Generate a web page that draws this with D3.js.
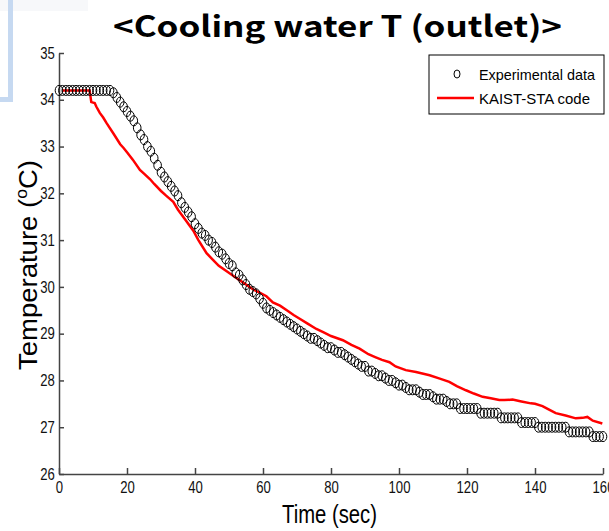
<!DOCTYPE html>
<html>
<head>
<meta charset="utf-8">
<script src="https://cdn.jsdelivr.net/npm/d3@7"></script>
<style>
  body { margin: 0; background: #fff; }
  svg { display: block; }
</style>
</head>
<body>
<div id="chart"></div>
<script>
// experimental data, one reading per second (0..160 s)
const expTemp = [
  34.2, 34.2, 34.2, 34.2, 34.2, 34.2, 34.2, 34.2, 34.2, 34.2, 34.2, 34.2, 34.2, 34.2, 34.2, 34.2,
  34.15, 34.05, 33.95, 33.85, 33.75, 33.65, 33.55, 33.4, 33.25, 33.15, 33.0, 32.9, 32.75, 32.6,
  32.45, 32.35, 32.25, 32.15, 32.05, 31.95, 31.8, 31.7, 31.6, 31.5, 31.35, 31.25, 31.15, 31.1,
  31.0, 30.95, 30.85, 30.75, 30.7, 30.6, 30.5, 30.45, 30.3, 30.25, 30.15, 30.05, 29.95, 29.9,
  29.85, 29.75, 29.65, 29.55, 29.5, 29.45, 29.4, 29.35, 29.3, 29.25, 29.2, 29.15, 29.1, 29.05,
  29.0, 28.95, 28.9, 28.9, 28.85, 28.8, 28.75, 28.7, 28.7, 28.65, 28.6, 28.6, 28.55, 28.5, 28.45,
  28.4, 28.35, 28.3, 28.3, 28.2, 28.2, 28.15, 28.1, 28.1, 28.05, 28.0, 28.0, 27.95, 27.9, 27.9,
  27.85, 27.8, 27.8, 27.8, 27.75, 27.7, 27.7, 27.7, 27.65, 27.6, 27.6, 27.6, 27.55, 27.5, 27.5, 27.5,
  27.4, 27.4, 27.4, 27.4, 27.4, 27.4,
  27.3, 27.3, 27.3, 27.3, 27.3, 27.3,
  27.2, 27.2, 27.2, 27.2, 27.2, 27.2,
  27.1, 27.1, 27.1, 27.1, 27.1,
  27.0, 27.0, 27.0, 27.0, 27.0, 27.0, 27.0, 27.0, 27.0,
  26.9, 26.9, 26.9, 26.9, 26.9, 26.9, 26.9,
  26.8, 26.8, 26.8, 26.8
];

// KAIST-STA code result
const codeTime = [1, 9, 9.5, 10.5, 11, 12, 13, 14, 16, 18, 19, 20, 21.7, 23.8, 25, 26.8, 28, 30,
  31.5, 33.6, 35, 37, 39.5, 41, 43.4, 45, 47, 49, 51, 53, 55, 57, 59, 61, 62.9, 65, 67, 69, 70.8,
  73, 75.7, 78, 80, 83.5, 86, 88.4, 91, 93, 95, 97.2, 99, 102, 105, 109, 112, 114.8, 117, 119.7,
  122, 124.6, 127, 129.5, 131, 133.4, 136, 138.8, 140, 142.2, 144, 146.1, 149, 152, 154, 155.4,
  157, 159.8];
const codeTemp = [34.2, 34.2, 33.95, 33.93, 33.85, 33.72, 33.62, 33.5, 33.28, 33.05, 32.97, 32.88,
  32.72, 32.5, 32.42, 32.3, 32.2, 32.05, 31.95, 31.82, 31.65, 31.45, 31.2, 31.0, 30.72, 30.6,
  30.45, 30.35, 30.25, 30.15, 30.05, 29.95, 29.88, 29.8, 29.67, 29.6, 29.5, 29.4, 29.32, 29.22,
  29.1, 29.02, 28.95, 28.86, 28.76, 28.68, 28.56, 28.5, 28.44, 28.39, 28.3, 28.22, 28.18, 28.11,
  28.04, 27.97, 27.88, 27.79, 27.72, 27.65, 27.62, 27.58, 27.58, 27.59, 27.55, 27.51, 27.5, 27.45,
  27.38, 27.3, 27.25, 27.19, 27.2, 27.22, 27.14, 27.08];

const xTicks = [0, 20, 40, 60, 80, 100, 120, 140, 160];
const yTicks = [26, 27, 28, 29, 30, 31, 32, 33, 34, 35];
const legendLabels = ["Experimental data", "KAIST-STA code"];
const legendWidths = [116, 111];

const W = 609, H = 531;
const sans = "'Liberation Sans', Arial, sans-serif";

const svg = d3.select("#chart").append("svg")
  .attr("width", W)
  .attr("height", H);

// leftover slide decoration (top left)
svg.append("rect").attr("x", 0).attr("y", 0).attr("width", 88).attr("height", 11).attr("fill", "#f7f8fa");
svg.append("rect").attr("x", 8).attr("y", 0).attr("width", 5).attr("height", 102).attr("fill", "#c6d9f1");
svg.append("rect").attr("x", 0).attr("y", 97).attr("width", 13).attr("height", 5).attr("fill", "#c6d9f1");

const x = d3.scaleLinear().domain([0, 160]).range([59, 603]);
const y = d3.scaleLinear().domain([26, 35]).range([474, 53]);

// title
svg.append("text")
  .attr("x", 113).attr("y", 37)
  .attr("textLength", 449).attr("lengthAdjust", "spacingAndGlyphs")
  .style("font-family", "'Noto Sans CJK KR', 'Open Sans', sans-serif")
  .style("font-weight", "bold")
  .style("font-size", "29px")
  .text("<Cooling water T (outlet)>");

// axes
const xAxis = svg.append("g")
  .attr("transform", "translate(0," + y(26) + ")")
  .call(d3.axisBottom(x).tickValues(xTicks).tickSize(-6).tickPadding(8).tickSizeOuter(0));
const yAxis = svg.append("g")
  .attr("transform", "translate(" + x(0) + ",0)")
  .call(d3.axisLeft(y).tickValues(yTicks).tickSize(-5).tickPadding(5).tickSizeOuter(0));

[xAxis, yAxis].forEach(g => {
  g.select(".domain").attr("stroke", "#444").attr("stroke-width", 1.5);
  g.selectAll(".tick line").attr("stroke", "#444").attr("stroke-width", 1.5);
  // condensed look, like Arial Narrow
  g.selectAll(".tick text")
    .attr("fill", "#111")
    .attr("transform", "scale(0.82,1)")
    .style("font-family", sans)
    .style("font-size", "16px");
});

// code line
const line = d3.line()
  .x((d, i) => x(codeTime[i]))
  .y(d => y(d));
svg.append("path")
  .datum(codeTemp)
  .attr("fill", "none")
  .attr("stroke", "#ff0000")
  .attr("stroke-width", 2.5)
  .attr("d", line);

// experimental markers
svg.append("g").selectAll("ellipse")
  .data(expTemp)
  .join("ellipse")
  .attr("cx", (d, i) => x(i))
  .attr("cy", d => y(d))
  .attr("rx", 3.8)
  .attr("ry", 5)
  .attr("fill", "none")
  .attr("stroke", "#000")
  .attr("stroke-width", 1);

// axis labels
svg.append("text")
  .attr("x", 282).attr("y", 523)
  .attr("textLength", 95).attr("lengthAdjust", "spacingAndGlyphs")
  .style("font-family", sans)
  .style("font-size", "25px")
  .text("Time (sec)");

const yl = svg.append("text")
  .attr("transform", "translate(37,370) rotate(-90)")
  .attr("textLength", 210).attr("lengthAdjust", "spacingAndGlyphs")
  .style("font-family", sans)
  .style("font-size", "25px");
yl.append("tspan").text("Temperature (");
yl.append("tspan").attr("dy", -10).style("font-size", "16px").text("o");
yl.append("tspan").attr("dy", 10).text("C)");

// legend
const lg = svg.append("g");
lg.append("rect")
  .attr("x", 429).attr("y", 55).attr("width", 175).attr("height", 59)
  .attr("fill", "#fff").attr("stroke", "#000").attr("stroke-width", 1);
lg.append("ellipse")
  .attr("cx", 457).attr("cy", 74).attr("rx", 3).attr("ry", 4)
  .attr("fill", "none").attr("stroke", "#000");
lg.append("line")
  .attr("x1", 437).attr("x2", 474).attr("y1", 98).attr("y2", 98)
  .attr("stroke", "#ff0000").attr("stroke-width", 2.5);
lg.selectAll("text.lab")
  .data(legendLabels)
  .join("text")
  .attr("class", "lab")
  .attr("x", 479)
  .attr("y", (d, i) => 80 + i * 24)
  .attr("textLength", (d, i) => legendWidths[i])
  .attr("lengthAdjust", "spacingAndGlyphs")
  .style("font-family", sans)
  .style("font-size", "15px")
  .text(d => d);
</script>
</body>
</html>
